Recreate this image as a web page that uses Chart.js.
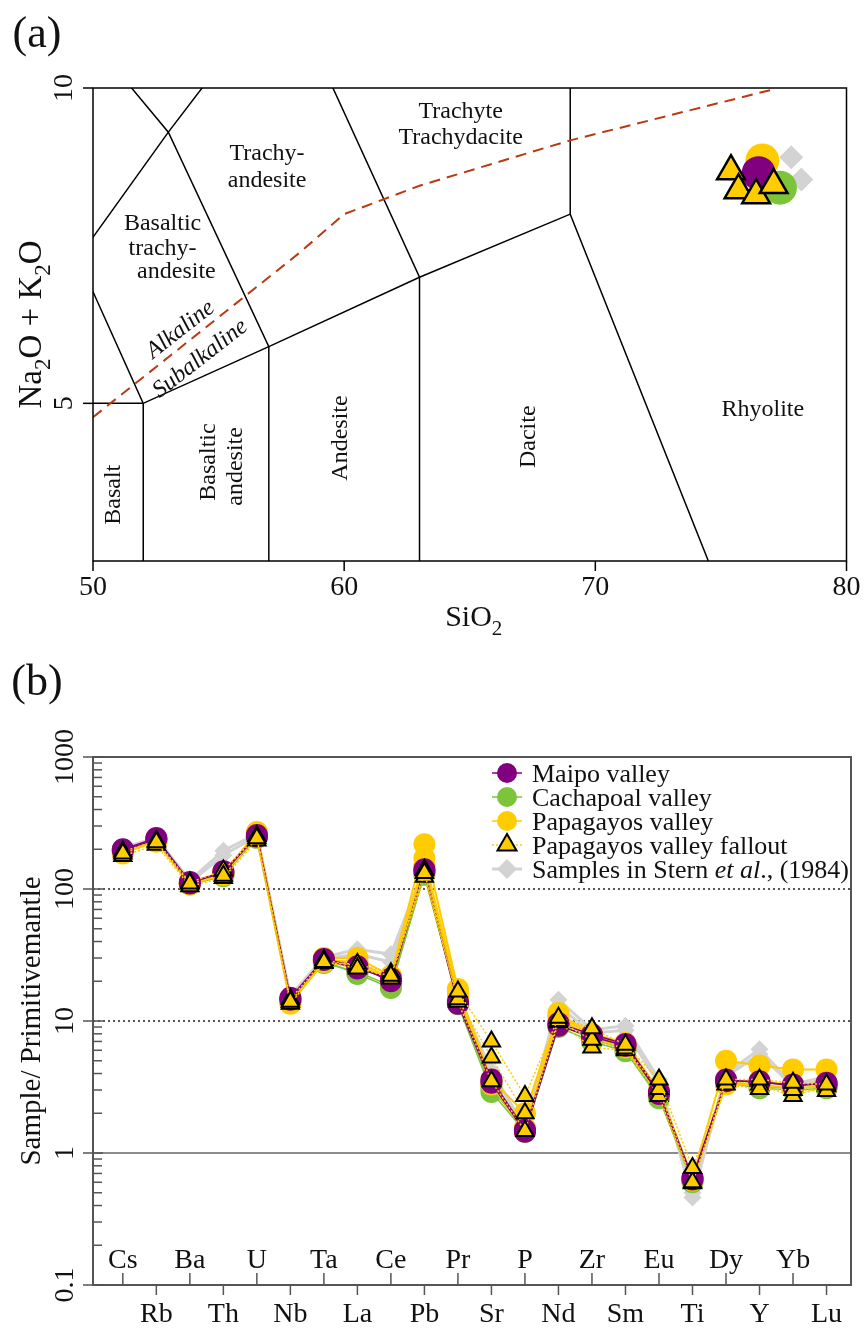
<!DOCTYPE html>
<html>
<head>
<meta charset="utf-8">
<script src="https://cdn.jsdelivr.net/npm/chart.js@4/dist/chart.umd.min.js"></script>
<style>
  html, body { margin: 0; padding: 0; background: #fff; }
  #page { position: relative; width: 865px; height: 1329px; overflow: hidden; }
  .panel { position: absolute; left: 0; }
  #wrapA { top: 0; width: 865px; height: 650px; }
  #wrapB { top: 650px; width: 865px; height: 679px; }
</style>
</head>
<body>
<div id="page">
  <div class="panel" id="wrapA"><canvas id="tasChart" width="865" height="650"></canvas></div>
  <div class="panel" id="wrapB"><canvas id="spiderChart" width="865" height="679"></canvas></div>
</div>
<script>
const SERIF = '"Liberation Serif", "Times New Roman", serif';

// ======================================================
// (a) TAS diagram data
// ======================================================
const tasXTicks = [50, 60, 70, 80];
const tasYTicks = [5, 10];

// field boundaries, [SiO2, Na2O+K2O]
const fieldLines = [
  [[48.4, 11.5], [53, 9.3], [57, 5.9], [57, 0]],
  [[49.4, 7.3], [53, 9.3], [57.6, 11.7]],
  [[49.4, 7.3], [52, 5], [52, 0]],
  [[45, 5], [52, 5], [57, 5.9], [63, 7], [69, 8], [77, 0]],
  [[63, 0], [63, 7], [57.6, 11.7]],
  [[69, 8], [69, 13]]
];

// alkaline / subalkaline divide
const alkDivideSi = [50, 58.2, 60, 63, 69, 77];
const alkDivideAlk = [4.78, 7.38, 8.0, 8.45, 9.17, 9.97];

// samples
const tasMaipoSi = [76.5];
const tasMaipoAlk = [8.65];
const tasCachapoalSi = [77.35];
const tasCachapoalAlk = [8.42];
const tasPapagayosSi = [76.65];
const tasPapagayosAlk = [8.85];
const tasFalloutSi = [75.4, 75.7, 76.4, 77.1];
const tasFalloutAlk = [8.68, 8.38, 8.3, 8.46];
const tasSternSi = [77.8, 78.2];
const tasSternAlk = [8.9, 8.55];

// ======================================================
// (b) spider diagram data
// ======================================================
const elements = ["Cs","Rb","Ba","Th","U","Nb","Ta","La","Ce","Pb","Pr","Sr","P","Nd","Zr","Sm","Eu","Ti","Dy","Y","Yb","Lu"];
const spiderYTicks = [0.1, 1, 10, 100, 1000];

const maipo = [
  [200, 243, 113, 132, 256, 15.0, 29.5, 26, 20, 141, 13.5, 3.4, 1.45, 9.2, 7.6, 6.5, 2.8, 0.63, 3.5, 3.5, 3.2, 3.4],
  [196, 238, 110, 136, 250, 14.5, 29.0, 25, 21, 137, 14.0, 3.6, 1.50, 9.6, 7.9, 6.7, 2.9, 0.65, 3.6, 3.4, 3.3, 3.3]
];
const cachapoal = [
  [192, 236, 110, 128, 248, 14.3, 28.5, 22.7, 17.8, 133, 13.4, 2.9, 1.45, 9.0, 7.0, 5.9, 2.6, 0.60, 3.4, 3.1, 3.0, 3.1],
  [198, 232, 108, 125, 244, 14.0, 27.5, 23.5, 18.5, 128, 14.2, 3.1, 1.50, 9.5, 7.3, 6.1, 2.7, 0.62, 3.5, 3.2, 3.1, 3.2]
];
const papagayos = [
  [190, 228, 108, 130, 270, 14.0, 30.0, 30, 22, 218, 17.5, 3.6, 2.00, 11.5, 8.0, 6.8, 3.0, 0.65, 5.0, 4.6, 4.3, 4.3],
  [186, 232, 112, 135, 262, 14.5, 29.0, 28, 21, 171, 16.0, 3.5, 1.55, 11.0, 7.8, 6.5, 2.9, 0.64, 3.5, 3.5, 3.3, 3.4],
  [194, 236, 111, 128, 256, 13.5, 28.0, 27, 20, 150, 15.0, 3.3, 1.45, 10.5, 7.5, 6.3, 2.8, 0.62, 3.3, 3.3, 3.1, 3.2]
];
const fallout = [
  [186, 226, 110, 126, 242, 14.0, 28.0, 25, 22, 132, 16.7, 7.0, 2.70, 10.6, 8.8, 6.6, 3.6, 0.77, 3.6, 3.6, 3.4, 3.3],
  [178, 216, 105, 121, 233, 13.5, 27.5, 27, 23, 124, 14.6, 5.3, 2.00, 10.0, 7.2, 6.2, 3.05, 0.60, 3.3, 3.05, 3.0, 2.95],
  [192, 232, 112, 138, 252, 14.6, 29.0, 26, 21, 140, 14.0, 3.5, 1.47, 9.8, 6.3, 6.0, 2.7, 0.59, 3.5, 3.3, 2.7, 3.2]
];
const stern = [
  [205, 245, 116, 195, 262, 15.5, 30.5, 35, 32, 145, 15.5, 4.2, 1.55, 14.5, 8.6, 9.2, 3.6, 0.46, 4.0, 6.1, 3.3, 3.8],
  [195, 235, 112, 180, 252, 14.5, 29.5, 32, 28, 135, 14.5, 3.7, 1.45, 13.0, 8.1, 8.5, 3.3, 0.50, 3.8, 5.6, 3.2, 3.6]
];

// ======================================================
// styles
// ======================================================
const PURPLE = "#800080";
const GREEN = "#7DC43A";
const GOLD = "#FFCC00";
const GREY = "#D3D3D3";
const RED = "#B83A12";

// ---------- text helpers ----------
function richWidth(ctx, parts, size) {
  let w = 0;
  parts.forEach(p => {
    ctx.font = `${p.it ? "italic " : ""}${p.sub ? size * 0.7 : size}px ${SERIF}`;
    w += ctx.measureText(p.t).width;
  });
  return w;
}

// draws text parts centred on (cx, cy), optionally rotated
function drawRich(ctx, parts, cx, cy, size, rotDeg, align) {
  ctx.save();
  ctx.translate(cx, cy);
  if (rotDeg) ctx.rotate(rotDeg * Math.PI / 180);
  const w = richWidth(ctx, parts, size);
  let xx = align === "left" ? 0 : -w / 2;
  ctx.textAlign = "left";
  ctx.textBaseline = "alphabetic";
  ctx.fillStyle = "#111";
  parts.forEach(p => {
    ctx.font = `${p.it ? "italic " : ""}${p.sub ? size * 0.7 : size}px ${SERIF}`;
    ctx.fillText(p.t, xx, size * 0.34 + (p.sub ? size * 0.28 : 0));
    xx += ctx.measureText(p.t).width;
  });
  ctx.restore();
}

function txt(ctx, s, cx, cy, size, rotDeg, italic) {
  drawRich(ctx, [{ t: s, it: italic }], cx, cy, size, rotDeg);
}

function marker(ctx, style, x, y, r) {
  ctx.beginPath();
  if (style === "circle") {
    ctx.arc(x, y, r, 0, Math.PI * 2);
  } else if (style === "triangle") {
    ctx.moveTo(x, y - r);
    ctx.lineTo(x + r * Math.sin(2 * Math.PI / 3), y - r * Math.cos(2 * Math.PI / 3));
    ctx.lineTo(x + r * Math.sin(4 * Math.PI / 3), y - r * Math.cos(4 * Math.PI / 3));
    ctx.closePath();
  } else {
    ctx.moveTo(x - r, y); ctx.lineTo(x, y - r); ctx.lineTo(x + r, y); ctx.lineTo(x, y + r);
    ctx.closePath();
  }
}

// ======================================================
// (a) TAS chart
// ======================================================
const tasLabels = [
  { t: "Trachyte", x: 64.64, y: 9.65 },
  { t: "Trachydacite", x: 64.64, y: 9.24 },
  { t: "Trachy-", x: 56.93, y: 8.98 },
  { t: "andesite", x: 56.93, y: 8.56 },
  { t: "Basaltic", x: 52.77, y: 7.88 },
  { t: "trachy-", x: 52.77, y: 7.48 },
  { t: "andesite", x: 53.32, y: 7.11 },
  { t: "Alkaline", x: 53.44, y: 6.19, rot: -38, it: true },
  { t: "Subalkaline", x: 54.23, y: 5.73, rot: -38, it: true },
  { t: "Rhyolite", x: 76.67, y: 4.93 },
  { t: "Dacite", x: 67.29, y: 4.47, rot: -90 },
  { t: "Andesite", x: 59.77, y: 4.45, rot: -90 },
  { t: "Basaltic", x: 54.55, y: 4.07, rot: -90 },
  { t: "andesite", x: 55.62, y: 4.0, rot: -90 },
  { t: "Basalt", x: 50.75, y: 3.55, rot: -90 }
];

const tasDecor = {
  id: "tasDecor",
  afterDraw(chart) {
    const { ctx, chartArea: a, scales: { x, y } } = chart;
    ctx.save();
    ctx.strokeStyle = "#000";
    ctx.lineWidth = 1.5;
    ctx.strokeRect(a.left, a.top, a.right - a.left, a.bottom - a.top);

    tasXTicks.forEach(v => {
      const px = x.getPixelForValue(v);
      ctx.beginPath(); ctx.moveTo(px, a.bottom); ctx.lineTo(px, a.bottom + 10); ctx.stroke();
      txt(ctx, String(v), px, a.bottom + 24, 28);
    });
    tasYTicks.forEach(v => {
      const py = y.getPixelForValue(v);
      ctx.beginPath(); ctx.moveTo(a.left - 10, py); ctx.lineTo(a.left, py); ctx.stroke();
      txt(ctx, String(v), a.left - 31, py, 28, -90);
    });

    tasLabels.forEach(l => {
      txt(ctx, l.t, x.getPixelForValue(l.x), y.getPixelForValue(l.y), 24, l.rot || 0, l.it);
    });

    drawRich(ctx, [{ t: "SiO" }, { t: "2", sub: true }], (a.left + a.right) / 2 + 4, a.bottom + 55, 30);
    drawRich(ctx, [{ t: "Na" }, { t: "2", sub: true }, { t: "O + K" }, { t: "2", sub: true }, { t: "O" }],
      30, (a.top + a.bottom) / 2, 33, -90);
    txt(ctx, "(a)", 37, 32, 44);
    ctx.restore();
  }
};

const pts = (xs, ys) => xs.map((v, i) => ({ x: v, y: ys[i] }));

const tasDatasets = [
  { data: pts(tasFalloutSi, tasFalloutAlk), pointStyle: "triangle", pointRadius: 16,
    backgroundColor: GOLD, borderColor: "#000", borderWidth: 2.5, order: 0 },
  { data: pts(tasMaipoSi, tasMaipoAlk), pointStyle: "circle", pointRadius: 17,
    backgroundColor: PURPLE, borderWidth: 0, order: 1 },
  { data: pts(tasPapagayosSi, tasPapagayosAlk), pointStyle: "circle", pointRadius: 17,
    backgroundColor: GOLD, borderWidth: 0, order: 2 },
  { data: pts(tasCachapoalSi, tasCachapoalAlk), pointStyle: "circle", pointRadius: 17,
    backgroundColor: GREEN, borderWidth: 0, order: 3 },
  { data: pts(tasSternSi, tasSternAlk), pointStyle: "rectRot", pointRadius: 12,
    backgroundColor: GREY, borderWidth: 0, order: 4 },
  { data: pts(alkDivideSi, alkDivideAlk), showLine: true, pointRadius: 0,
    borderColor: RED, borderWidth: 2, borderDash: [11, 7], order: 5 }
].concat(fieldLines.map(line => ({
  data: line.map(p => ({ x: p[0], y: p[1] })), showLine: true, pointRadius: 0,
  borderColor: "#000", borderWidth: 1.5, order: 6
})));

new Chart(document.getElementById("tasChart"), {
  type: "scatter",
  data: { datasets: tasDatasets },
  options: {
    responsive: false,
    animation: false,
    events: [],
    layout: { padding: { top: 88, right: 14, bottom: 0, left: 0 } },
    plugins: { legend: { display: false }, tooltip: { enabled: false } },
    scales: {
      x: { type: "linear", min: 50, max: 80, ticks: { display: false },
           grid: { display: false }, border: { display: false },
           afterFit: s => { s.height = 89; } },
      y: { type: "linear", min: 2.5, max: 10, ticks: { display: false },
           grid: { display: false }, border: { display: false },
           afterFit: s => { s.width = 93; } }
    }
  },
  plugins: [tasDecor]
});

// ======================================================
// (b) spider chart
// ======================================================
const legendItems = [
  { label: [{ t: "Maipo valley" }], color: PURPLE, style: "circle", r: 10, lw: 1.5 },
  { label: [{ t: "Cachapoal valley" }], color: GREEN, style: "circle", r: 10, lw: 1.5 },
  { label: [{ t: "Papagayos valley" }], color: GOLD, style: "circle", r: 10, lw: 1.5 },
  { label: [{ t: "Papagayos valley fallout" }], color: GOLD, style: "triangle", r: 11, lw: 1.5, dash: [2, 2], edge: "#000" },
  { label: [{ t: "Samples in Stern " }, { t: "et al", it: true }, { t: "., (1984)" }], color: GREY, style: "diamond", r: 10, lw: 3 }
];

const spiderDecor = {
  id: "spiderDecor",
  beforeDatasetsDraw(chart) {
    const { ctx, chartArea: a, scales: { y } } = chart;
    ctx.save();
    ctx.lineWidth = 1.5;
    ctx.strokeStyle = "#222";
    ctx.setLineDash([2, 3]);
    [10, 100].forEach(v => {
      const py = y.getPixelForValue(v);
      ctx.beginPath(); ctx.moveTo(a.left, py); ctx.lineTo(a.right, py); ctx.stroke();
    });
    ctx.setLineDash([]);
    ctx.strokeStyle = "#666";
    const p1 = y.getPixelForValue(1);
    ctx.beginPath(); ctx.moveTo(a.left, p1); ctx.lineTo(a.right, p1); ctx.stroke();
    ctx.restore();
  },
  afterDraw(chart) {
    const { ctx, chartArea: a, scales: { x, y } } = chart;
    ctx.save();
    ctx.strokeStyle = "#555";
    ctx.lineWidth = 2;
    ctx.strokeRect(a.left, a.top, a.right - a.left, a.bottom - a.top);

    // y axis ticks
    ctx.lineWidth = 1.5;
    spiderYTicks.forEach((v, i) => {
      const py = y.getPixelForValue(v);
      ctx.beginPath(); ctx.moveTo(a.left - 10, py); ctx.lineTo(a.left + 10, py); ctx.stroke();
      txt(ctx, String(v), a.left - 30, py, 28, -90);
      if (i < spiderYTicks.length - 1) {
        for (let k = 2; k <= 9; k++) {
          const pm = y.getPixelForValue(v * k);
          ctx.beginPath(); ctx.moveTo(a.left, pm); ctx.lineTo(a.left + 9, pm); ctx.stroke();
        }
      }
    });

    // x axis: alternating labels
    elements.forEach((el, i) => {
      const px = x.getPixelForValue(i);
      ctx.beginPath();
      if (i % 2 === 0) {
        ctx.moveTo(px, a.bottom); ctx.lineTo(px, a.bottom - 12);
        ctx.stroke();
        txt(ctx, el, px, a.bottom - 27, 28);
      } else {
        ctx.moveTo(px, a.bottom); ctx.lineTo(px, a.bottom + 10);
        ctx.stroke();
        txt(ctx, el, px, a.bottom + 27, 28);
      }
    });

    // legend
    legendItems.forEach((it, i) => {
      const ly = a.top + 16 + i * 24;
      const mx = a.left + 414;
      ctx.strokeStyle = it.color;
      ctx.lineWidth = it.lw;
      ctx.setLineDash(it.dash || []);
      ctx.beginPath(); ctx.moveTo(mx - 15, ly); ctx.lineTo(mx + 15, ly); ctx.stroke();
      ctx.setLineDash([]);
      ctx.fillStyle = it.color;
      marker(ctx, it.style, mx, ly, it.r);
      ctx.fill();
      if (it.edge) { ctx.strokeStyle = it.edge; ctx.lineWidth = 2; ctx.stroke(); }
      drawRich(ctx, it.label, mx + 25, ly, 26, 0, "left");
    });

    drawRich(ctx, [{ t: "Sample/ Primitivemantle" }], 30, (a.top + a.bottom) / 2, 29, -90);
    txt(ctx, "(b)", 37, 30, 44);
    ctx.restore();
  }
};

const series = vals => vals.map((v, i) => ({ x: i, y: v }));

function groupSets(group, style) {
  return group.map(vals => Object.assign({ data: series(vals), showLine: true }, style));
}

const spiderDatasets = [].concat(
  groupSets(fallout, { borderColor: GOLD, borderWidth: 1.5, borderDash: [2, 2],
    pointStyle: "triangle", pointRadius: 10, pointBackgroundColor: GOLD,
    pointBorderColor: "#000", pointBorderWidth: 2, order: 0 }),
  groupSets(maipo, { borderColor: PURPLE, borderWidth: 1.5, pointStyle: "circle",
    pointRadius: 11, pointBackgroundColor: PURPLE, pointBorderWidth: 0, order: 1 }),
  groupSets(papagayos, { borderColor: GOLD, borderWidth: 2, pointStyle: "circle",
    pointRadius: 11, pointBackgroundColor: GOLD, pointBorderWidth: 0, order: 2 }),
  groupSets(cachapoal, { borderColor: GREEN, borderWidth: 1.5, pointStyle: "circle",
    pointRadius: 11, pointBackgroundColor: GREEN, pointBorderWidth: 0, order: 3 }),
  groupSets(stern, { borderColor: GREY, borderWidth: 3, pointStyle: "rectRot",
    pointRadius: 9, pointBackgroundColor: GREY, pointBorderWidth: 0, order: 4 })
);

new Chart(document.getElementById("spiderChart"), {
  type: "scatter",
  data: { datasets: spiderDatasets },
  options: {
    responsive: false,
    animation: false,
    events: [],
    layout: { padding: { top: 107, right: 14, bottom: 0, left: 0 } },
    plugins: { legend: { display: false }, tooltip: { enabled: false } },
    scales: {
      x: { type: "linear", min: -0.89, max: 21.73, ticks: { display: false },
           grid: { display: false }, border: { display: false },
           afterFit: s => { s.height = 44; } },
      y: { type: "logarithmic", min: 0.1, max: 1000, ticks: { display: false },
           grid: { display: false }, border: { display: false },
           afterFit: s => { s.width = 93; } }
    }
  },
  plugins: [spiderDecor]
});
</script>
</body>
</html>
